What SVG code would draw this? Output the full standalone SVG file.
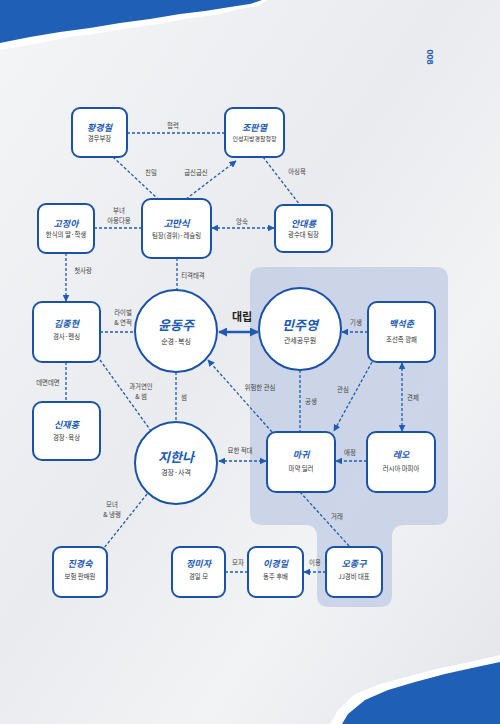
<svg xmlns="http://www.w3.org/2000/svg" width="500" height="724" viewBox="0 0 500 724">
<defs>
<linearGradient id="paper" x1="0" y1="0" x2="1" y2="1">
<stop offset="0" stop-color="#f4f5f7"/>
<stop offset="0.45" stop-color="#eaebee"/>
<stop offset="0.7" stop-color="#f2f3f5"/>
<stop offset="1" stop-color="#e4e5e9"/>
</linearGradient>
<marker id="ah" viewBox="0 0 10 10" refX="9" refY="5" markerWidth="7" markerHeight="7" markerUnits="userSpaceOnUse" orient="auto-start-reverse">
<path d="M0,0 L10,5 L0,10 Z" fill="#1f5bb0"/>
</marker>
<marker id="ahs" viewBox="0 0 10 10" refX="9" refY="5" markerWidth="9" markerHeight="9" markerUnits="userSpaceOnUse" orient="auto-start-reverse">
<path d="M0,0 L10,5 L0,10 Z" fill="#1f5bb0"/>
</marker>
</defs>
<style>
.box{fill:#ffffff;stroke:#1a52a8;stroke-width:2}
.nm{font-family:"Noto Sans CJK KR","Noto Sans",sans-serif;font-weight:bold;font-style:italic;fill:#1d5ab3;text-anchor:middle;font-size:9px}
.cn{font-size:13px}
.sb{font-family:"Noto Sans CJK KR","Noto Sans",sans-serif;fill:#333;text-anchor:middle;font-size:6.4px}
.cs{font-size:7px}
.lb{font-family:"Noto Sans CJK KR","Noto Sans",sans-serif;fill:#444;text-anchor:middle;font-size:6.4px}
.ln{stroke:#1f5bb0;stroke-width:1.3;stroke-dasharray:3 2;fill:none}
.sl{stroke:#1f5bb0;stroke-width:2.4;fill:none}
</style>
<rect width="500" height="724" fill="url(#paper)"/>
<path d="M0,0 H268 L258,6 L240,9 L215,15 L190,18 L160,24 L130,28 L100,33 L70,37 L40,43 L0,50 Z" fill="#ffffff"/>
<path d="M0,0 H262 L250,4 L230,7 L205,11 L180,14 L150,19 L120,23 L90,28 L60,32 L30,37 L0,43 Z" fill="#1f5fb5"/>
<path d="M500,655 L470,662 L440,668 L410,676 L380,684 L355,694 L338,710 L330,724 H500 Z" fill="#ffffff"/>
<path d="M500,662 L472,668 L445,674 L415,682 L388,690 L365,700 L348,714 L342,724 H500 Z" fill="#1f5fb5"/>
<text x="429" y="57" font-family="Liberation Sans,sans-serif" font-size="9" font-weight="bold" fill="#1f5bb0" text-anchor="middle" transform="rotate(90 429 57)" dominant-baseline="middle">008</text>
<path d="M262,267 H436 Q448,267 448,279 V513 Q448,525 436,525 H404 Q392,525 392,537 V595 Q392,607 380,607 H329 Q317,607 317,595 V537 Q317,525 305,525 H262 Q250,525 250,513 V279 Q250,267 262,267 Z" fill="#c6d0e5" fill-opacity="0.85"/>
<g id="connectors">
<line class="ln" x1="127" y1="133" x2="225" y2="133"/>
<line class="ln" x1="113" y1="157" x2="158" y2="199"/>
<line class="ln" x1="186" y1="199" x2="236" y2="161" marker-end="url(#ah)"/>
<line class="ln" x1="263" y1="157" x2="300" y2="205"/>
<line class="ln" x1="94" y1="228" x2="142" y2="228"/>
<line class="ln" x1="212" y1="228" x2="274" y2="228" marker-start="url(#ah)" marker-end="url(#ah)"/>
<line class="ln" x1="66" y1="253" x2="66" y2="301" marker-end="url(#ah)"/>
<line class="ln" x1="177" y1="258" x2="177" y2="290"/>
<line class="ln" x1="100" y1="332" x2="135" y2="332"/>
<line class="sl" x1="219" y1="332" x2="258" y2="332" marker-start="url(#ahs)" marker-end="url(#ahs)"/>
<line class="ln" x1="368" y1="332" x2="342" y2="332" marker-end="url(#ah)"/>
<line class="ln" x1="66" y1="362" x2="66" y2="402"/>
<line class="ln" x1="100" y1="360" x2="151" y2="431"/>
<line class="ln" x1="176" y1="372" x2="176" y2="422"/>
<line class="ln" x1="272" y1="432" x2="208" y2="360" marker-end="url(#ah)"/>
<line class="ln" x1="300" y1="370" x2="300" y2="432"/>
<line class="ln" x1="372" y1="362" x2="334" y2="431" marker-end="url(#ah)"/>
<line class="ln" x1="402" y1="363" x2="402" y2="431" marker-start="url(#ah)" marker-end="url(#ah)"/>
<line class="ln" x1="219" y1="461" x2="266" y2="461" marker-start="url(#ah)" marker-end="url(#ah)"/>
<line class="ln" x1="367" y1="461" x2="336" y2="461" marker-end="url(#ah)"/>
<line class="ln" x1="147" y1="494" x2="104" y2="548"/>
<line class="ln" x1="300" y1="492" x2="350" y2="547"/>
<line class="ln" x1="248" y1="572" x2="225" y2="572"/>
<line class="ln" x1="326" y1="572" x2="304" y2="572" marker-end="url(#ah)"/>
<text class="lb" x="173" y="128">협력</text>
<text class="lb" x="151" y="175">친밀</text>
<text class="lb" x="196" y="175">굽신굽신</text>
<text class="lb" x="297" y="174">아싱육</text>
<text class="lb" x="119" y="213">부녀</text>
<text class="lb" x="119" y="223">아웅다웅</text>
<text class="lb" x="242" y="224">앙숙</text>
<text class="lb" x="83" y="273">첫사랑</text>
<text class="lb" x="193" y="278">티격태격</text>
<text class="lb" x="123" y="315">라이벌</text>
<text class="lb" x="123" y="325">&amp; 연적</text>
<text x="242" y="321" font-family="Noto Sans CJK KR,sans-serif" font-weight="bold" font-size="11" fill="#222" text-anchor="middle">대립</text>
<text class="lb" x="356" y="325">기생</text>
<text class="lb" x="48" y="385">데면데면</text>
<text class="lb" x="141" y="389">과거연인</text>
<text class="lb" x="141" y="399">&amp; 썸</text>
<text class="lb" x="184" y="400">썸</text>
<text class="lb" x="260" y="390">위험한 관심</text>
<text class="lb" x="311" y="404">공생</text>
<text class="lb" x="343" y="392">관심</text>
<text class="lb" x="413" y="400">견제</text>
<text class="lb" x="240" y="453">묘한 적대</text>
<text class="lb" x="350" y="455">애정</text>
<text class="lb" x="112" y="507">모녀</text>
<text class="lb" x="112" y="517">&amp; 냉랭</text>
<text class="lb" x="337" y="519">거래</text>
<text class="lb" x="238" y="565">모자</text>
<text class="lb" x="315" y="565">이용</text>
</g>
<g id="n-hwang"><rect class="box" x="72" y="108" width="55" height="49" rx="8"/><text class="nm" x="99.5" y="131">황경철</text><text class="sb" x="99.5" y="141">경무부장</text></g>
<g id="n-jo"><rect class="box" x="225" y="108" width="59" height="49" rx="8"/><text class="nm" x="254.5" y="131">조판열</text><text class="sb" x="254.5" y="141" style="font-size:6px">인성지방경찰청장</text></g>
<g id="n-goja"><rect class="box" x="38" y="204" width="56" height="49" rx="8"/><text class="nm" x="66" y="227">고정아</text><text class="sb" x="66" y="237">한식의 딸·학생</text></g>
<g id="n-goman"><rect class="box" x="142" y="199" width="69" height="59" rx="9"/><text class="nm" x="176.5" y="227" style="font-size:9.5px">고만식</text><text class="sb" x="176.5" y="238">팀장(경위)·레슬링</text></g>
<g id="n-ahn"><rect class="box" x="275" y="205" width="57" height="47" rx="8"/><text class="nm" x="303.5" y="227">안대룡</text><text class="sb" x="303.5" y="237">광수대 팀장</text></g>
<g id="n-kimj"><rect class="box" x="33" y="302" width="67" height="60" rx="9"/><text class="nm" x="66.5" y="327">김종현</text><text class="sb" x="66.5" y="339">경사·펜싱</text></g>
<g id="n-yoon"><circle class="box" cx="176" cy="331" r="41"/><text class="nm cn" x="176" y="330">윤동주</text><text class="sb cs" x="176" y="344">순경·복싱</text></g>
<g id="n-min"><circle class="box" cx="300" cy="329" r="41"/><text class="nm cn" x="300" y="330">민주영</text><text class="sb cs" x="300" y="343">관세공무원</text></g>
<g id="n-baek"><rect class="box" x="368" y="302" width="67" height="60" rx="9"/><text class="nm" x="401.5" y="327">백석춘</text><text class="sb" x="401.5" y="342">조선족 깡패</text></g>
<g id="n-shin"><rect class="box" x="33" y="402" width="67" height="58" rx="9"/><text class="nm" x="66.5" y="428">신재홍</text><text class="sb" x="66.5" y="440">경장·육상</text></g>
<g id="n-ji"><circle class="box" cx="176" cy="463" r="41"/><text class="nm cn" x="176" y="462">지한나</text><text class="sb cs" x="176" y="475">경장·사격</text></g>
<g id="n-magwi"><rect class="box" x="267" y="432" width="68" height="60" rx="9"/><text class="nm" x="301" y="458">마귀</text><text class="sb" x="301" y="471">마약 딜러</text></g>
<g id="n-leo"><rect class="box" x="367" y="432" width="68" height="60" rx="9"/><text class="nm" x="401" y="458">레오</text><text class="sb" x="401" y="471">러시아 마피아</text></g>
<g id="n-jin"><rect class="box" x="53" y="547" width="54" height="50" rx="8"/><text class="nm" x="80" y="567">진경숙</text><text class="sb" x="80" y="579">보험 판매원</text></g>
<g id="n-jung"><rect class="box" x="172" y="547" width="53" height="50" rx="8"/><text class="nm" x="198.5" y="567">정미자</text><text class="sb" x="198.5" y="579">경일 모</text></g>
<g id="n-lee"><rect class="box" x="248" y="547" width="55" height="50" rx="8"/><text class="nm" x="275.5" y="567">이경일</text><text class="sb" x="275.5" y="579">동주 후배</text></g>
<g id="n-oh"><rect class="box" x="326" y="547" width="56" height="50" rx="8"/><text class="nm" x="354" y="567">오종구</text><text class="sb" x="354" y="579">JJ경비 대표</text></g>
</svg>
